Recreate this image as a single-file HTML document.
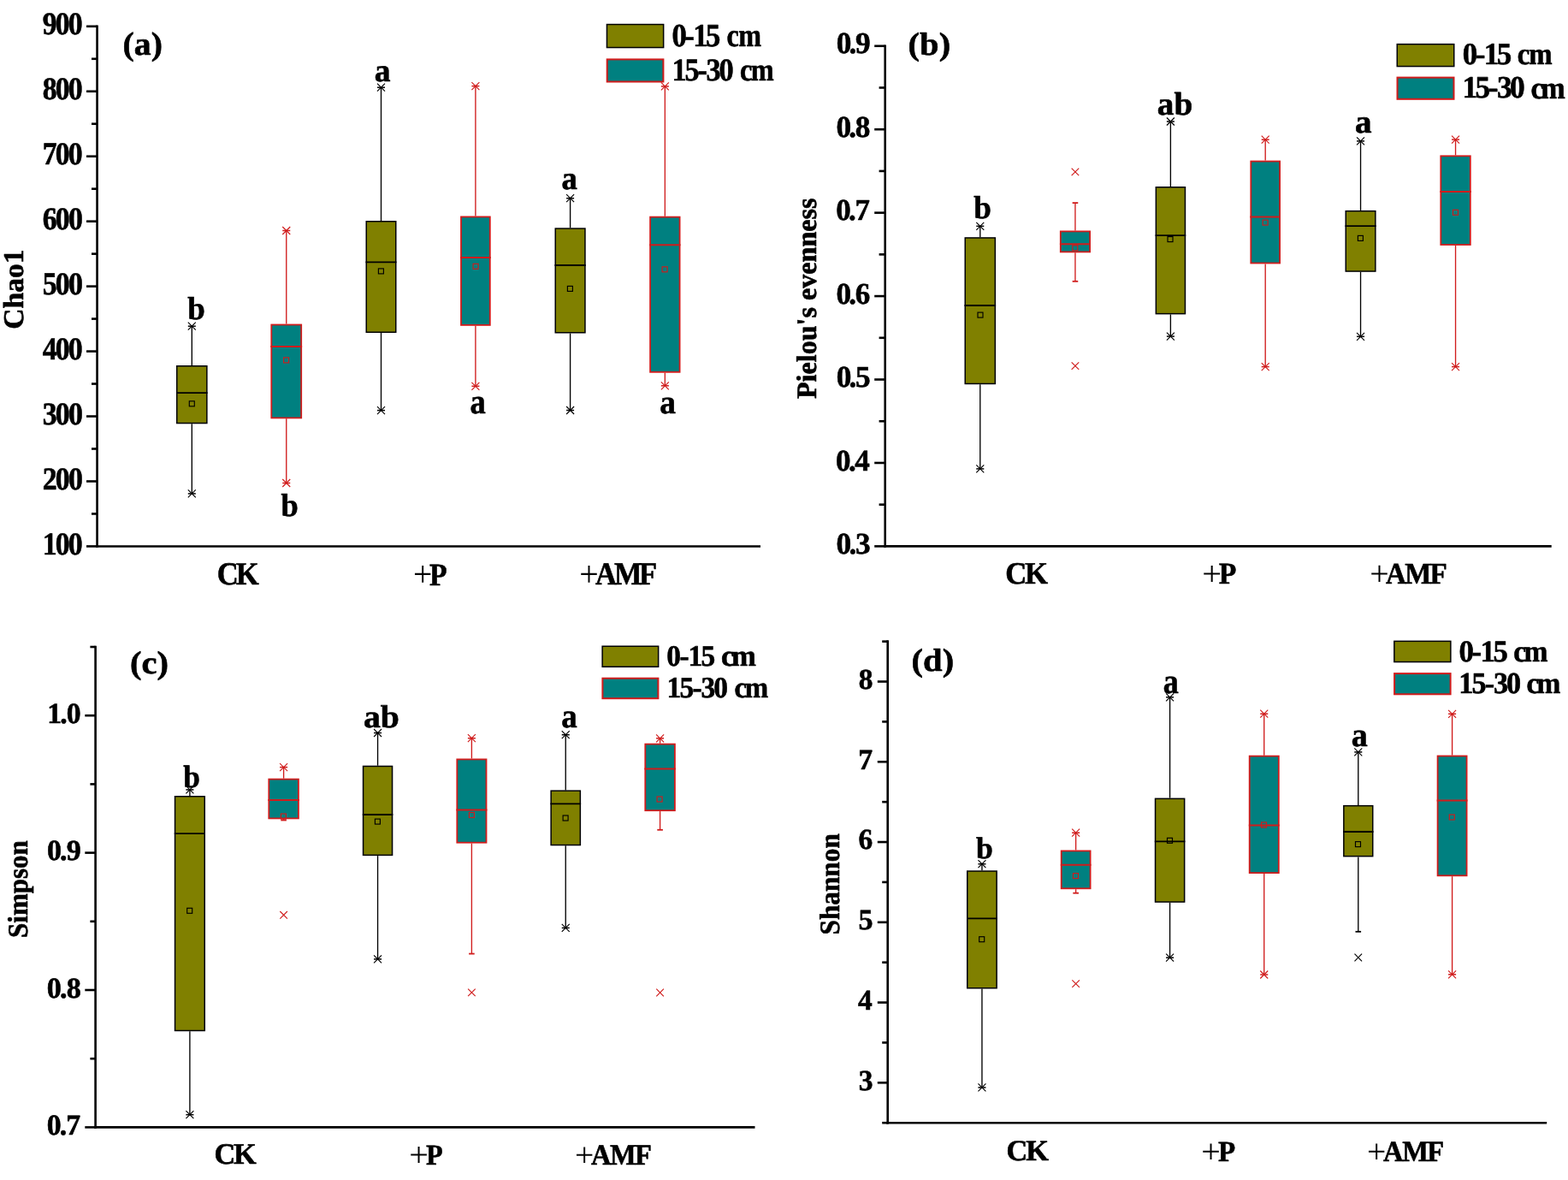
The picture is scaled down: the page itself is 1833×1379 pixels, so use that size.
<!DOCTYPE html>
<html><head><meta charset="utf-8"><title>Alpha diversity boxplots</title>
<style>
html,body{margin:0;padding:0;background:#fff;}
body{width:1833px;height:1379px;overflow:hidden;}
svg{display:block;}
text{font-family:"Liberation Serif", "Times New Roman", serif;font-weight:bold;fill:#000;stroke:#000;stroke-width:0.6px;stroke-linejoin:round;font-kerning:none;text-rendering:geometricPrecision;}
</style></head><body>
<svg width="1833" height="1379" viewBox="0 0 1833 1379">
<rect width="1833" height="1379" fill="#fff"/>
<line x1="113.55" y1="29.5" x2="113.55" y2="639.75" stroke="#000" stroke-width="2.6" stroke-linecap="butt"/>
<line x1="112.25" y1="638.45" x2="889" y2="638.45" stroke="#000" stroke-width="2.6" stroke-linecap="butt"/>
<line x1="101" y1="638.45" x2="113.55" y2="638.45" stroke="#000" stroke-width="2.6" stroke-linecap="butt"/>
<line x1="101" y1="562.49" x2="113.55" y2="562.49" stroke="#000" stroke-width="2.6" stroke-linecap="butt"/>
<line x1="101" y1="486.54" x2="113.55" y2="486.54" stroke="#000" stroke-width="2.6" stroke-linecap="butt"/>
<line x1="101" y1="410.58" x2="113.55" y2="410.58" stroke="#000" stroke-width="2.6" stroke-linecap="butt"/>
<line x1="101" y1="334.63" x2="113.55" y2="334.63" stroke="#000" stroke-width="2.6" stroke-linecap="butt"/>
<line x1="101" y1="258.67" x2="113.55" y2="258.67" stroke="#000" stroke-width="2.6" stroke-linecap="butt"/>
<line x1="101" y1="182.71" x2="113.55" y2="182.71" stroke="#000" stroke-width="2.6" stroke-linecap="butt"/>
<line x1="101" y1="106.76" x2="113.55" y2="106.76" stroke="#000" stroke-width="2.6" stroke-linecap="butt"/>
<line x1="101" y1="30.8" x2="113.55" y2="30.8" stroke="#000" stroke-width="2.6" stroke-linecap="butt"/>
<line x1="107" y1="600.47" x2="113.55" y2="600.47" stroke="#000" stroke-width="2.6" stroke-linecap="butt"/>
<line x1="107" y1="524.52" x2="113.55" y2="524.52" stroke="#000" stroke-width="2.6" stroke-linecap="butt"/>
<line x1="107" y1="448.56" x2="113.55" y2="448.56" stroke="#000" stroke-width="2.6" stroke-linecap="butt"/>
<line x1="107" y1="372.6" x2="113.55" y2="372.6" stroke="#000" stroke-width="2.6" stroke-linecap="butt"/>
<line x1="107" y1="296.65" x2="113.55" y2="296.65" stroke="#000" stroke-width="2.6" stroke-linecap="butt"/>
<line x1="107" y1="220.69" x2="113.55" y2="220.69" stroke="#000" stroke-width="2.6" stroke-linecap="butt"/>
<line x1="107" y1="144.74" x2="113.55" y2="144.74" stroke="#000" stroke-width="2.6" stroke-linecap="butt"/>
<line x1="107" y1="68.78" x2="113.55" y2="68.78" stroke="#000" stroke-width="2.6" stroke-linecap="butt"/>
<line x1="224.3" y1="427" x2="224.3" y2="381.2" stroke="#000" stroke-width="1.35" stroke-linecap="butt"/>
<line x1="224.3" y1="495.3" x2="224.3" y2="576.9" stroke="#000" stroke-width="1.35" stroke-linecap="butt"/>
<rect x="206.75" y="427.75" width="35.1" height="66.8" fill="#808000" stroke="#000" stroke-width="1.5"/>
<line x1="206" y1="459.1" x2="242.6" y2="459.1" stroke="#000" stroke-width="1.8" stroke-linecap="butt"/>
<rect x="221.3" y="468.8" width="6" height="6" fill="none" stroke="#000" stroke-width="1.15"/>
<path d="M219.8 376.7L228.8 385.7M228.8 376.7L219.8 385.7" stroke="#000" stroke-width="1.15" fill="none"/>
<path d="M219.8 381.2H228.8" stroke="#000" stroke-width="1.5" fill="none"/>
<path d="M219.8 572.4L228.8 581.4M228.8 572.4L219.8 581.4" stroke="#000" stroke-width="1.15" fill="none"/>
<path d="M219.8 576.9H228.8" stroke="#000" stroke-width="1.5" fill="none"/>
<line x1="334.75" y1="378.6" x2="334.75" y2="269.5" stroke="#d01c1c" stroke-width="1.35" stroke-linecap="butt"/>
<line x1="334.75" y1="489.3" x2="334.75" y2="564.5" stroke="#d01c1c" stroke-width="1.35" stroke-linecap="butt"/>
<rect x="317.3" y="379.5" width="34.9" height="108.9" fill="#008080" stroke="#d01c1c" stroke-width="1.8"/>
<line x1="316.4" y1="404.9" x2="353.1" y2="404.9" stroke="#d01c1c" stroke-width="2.0" stroke-linecap="butt"/>
<rect x="331.6" y="417.9" width="6" height="6" fill="none" stroke="#d01c1c" stroke-width="1.15"/>
<path d="M330.25 265L339.25 274M339.25 265L330.25 274" stroke="#d01c1c" stroke-width="1.15" fill="none"/>
<path d="M330.25 269.5H339.25" stroke="#d01c1c" stroke-width="1.5" fill="none"/>
<path d="M330.25 560L339.25 569M339.25 560L330.25 569" stroke="#d01c1c" stroke-width="1.15" fill="none"/>
<path d="M330.25 564.5H339.25" stroke="#d01c1c" stroke-width="1.5" fill="none"/>
<line x1="445.5" y1="258" x2="445.5" y2="102.2" stroke="#000" stroke-width="1.35" stroke-linecap="butt"/>
<line x1="445.5" y1="389" x2="445.5" y2="479.6" stroke="#000" stroke-width="1.35" stroke-linecap="butt"/>
<rect x="428.25" y="258.75" width="34.5" height="129.5" fill="#808000" stroke="#000" stroke-width="1.5"/>
<line x1="427.5" y1="306.4" x2="463.5" y2="306.4" stroke="#000" stroke-width="1.8" stroke-linecap="butt"/>
<rect x="442.4" y="313.9" width="6" height="6" fill="none" stroke="#000" stroke-width="1.15"/>
<path d="M441 97.7L450 106.7M450 97.7L441 106.7" stroke="#000" stroke-width="1.15" fill="none"/>
<path d="M441 102.2H450" stroke="#000" stroke-width="1.5" fill="none"/>
<path d="M441 475.1L450 484.1M450 475.1L441 484.1" stroke="#000" stroke-width="1.15" fill="none"/>
<path d="M441 479.6H450" stroke="#000" stroke-width="1.5" fill="none"/>
<line x1="555.9" y1="252.5" x2="555.9" y2="100.6" stroke="#d01c1c" stroke-width="1.35" stroke-linecap="butt"/>
<line x1="555.9" y1="380.8" x2="555.9" y2="451.3" stroke="#d01c1c" stroke-width="1.35" stroke-linecap="butt"/>
<rect x="539" y="253.4" width="33.8" height="126.5" fill="#008080" stroke="#d01c1c" stroke-width="1.8"/>
<line x1="538.1" y1="301.1" x2="573.7" y2="301.1" stroke="#d01c1c" stroke-width="2.0" stroke-linecap="butt"/>
<rect x="553.1" y="308.3" width="6" height="6" fill="none" stroke="#d01c1c" stroke-width="1.15"/>
<path d="M551.4 96.1L560.4 105.1M560.4 96.1L551.4 105.1" stroke="#d01c1c" stroke-width="1.15" fill="none"/>
<path d="M551.4 100.6H560.4" stroke="#d01c1c" stroke-width="1.5" fill="none"/>
<path d="M551.4 446.8L560.4 455.8M560.4 446.8L551.4 455.8" stroke="#d01c1c" stroke-width="1.15" fill="none"/>
<path d="M551.4 451.3H560.4" stroke="#d01c1c" stroke-width="1.5" fill="none"/>
<line x1="666.6" y1="266.3" x2="666.6" y2="231.7" stroke="#000" stroke-width="1.35" stroke-linecap="butt"/>
<line x1="666.6" y1="389.5" x2="666.6" y2="479.5" stroke="#000" stroke-width="1.35" stroke-linecap="butt"/>
<rect x="649.25" y="267.05" width="34.7" height="121.7" fill="#808000" stroke="#000" stroke-width="1.5"/>
<line x1="648.5" y1="310" x2="684.7" y2="310" stroke="#000" stroke-width="1.8" stroke-linecap="butt"/>
<rect x="663.4" y="334.4" width="6" height="6" fill="none" stroke="#000" stroke-width="1.15"/>
<path d="M662.1 227.2L671.1 236.2M671.1 227.2L662.1 236.2" stroke="#000" stroke-width="1.15" fill="none"/>
<path d="M662.1 231.7H671.1" stroke="#000" stroke-width="1.5" fill="none"/>
<path d="M662.1 475L671.1 484M671.1 475L662.1 484" stroke="#000" stroke-width="1.15" fill="none"/>
<path d="M662.1 479.5H671.1" stroke="#000" stroke-width="1.5" fill="none"/>
<line x1="777.35" y1="252.7" x2="777.35" y2="100.9" stroke="#d01c1c" stroke-width="1.35" stroke-linecap="butt"/>
<line x1="777.35" y1="435.7" x2="777.35" y2="450.8" stroke="#d01c1c" stroke-width="1.35" stroke-linecap="butt"/>
<rect x="760.1" y="253.6" width="34.5" height="181.2" fill="#008080" stroke="#d01c1c" stroke-width="1.8"/>
<line x1="759.2" y1="286.2" x2="795.5" y2="286.2" stroke="#d01c1c" stroke-width="2.0" stroke-linecap="butt"/>
<rect x="774.1" y="311.8" width="6" height="6" fill="none" stroke="#d01c1c" stroke-width="1.15"/>
<path d="M772.85 96.4L781.85 105.4M781.85 96.4L772.85 105.4" stroke="#d01c1c" stroke-width="1.15" fill="none"/>
<path d="M772.85 100.9H781.85" stroke="#d01c1c" stroke-width="1.5" fill="none"/>
<path d="M772.85 446.3L781.85 455.3M781.85 446.3L772.85 455.3" stroke="#d01c1c" stroke-width="1.15" fill="none"/>
<path d="M772.85 450.8H781.85" stroke="#d01c1c" stroke-width="1.5" fill="none"/>
<rect x="709.45" y="28.55" width="66.2" height="27" fill="#808000" stroke="#000" stroke-width="1.5"/>
<rect x="709.7" y="69.4" width="65.7" height="26.1" fill="#008080" stroke="#d01c1c" stroke-width="2"/>
<text transform="translate(785.44 53.92) scale(0.9149 1)" x="0 16.26 27.08 43.34" font-size="37.93">0-15</text>
<text transform="translate(849.45 53.92) scale(0.8479 1)" x="0 16.23" font-size="37.93">cm</text>
<text transform="translate(785.49 94.03) scale(0.9233 1)" x="0 16.23 32.46 43.26 59.49" font-size="37.19">15-30</text>
<text transform="translate(865.02 94.03) scale(0.8701 1)" x="0 14.64" font-size="37.19">cm</text>
<text transform="translate(143.58 63.8) scale(1.0442 1)" font-size="38.04">(a)</text>
<text transform="translate(253.67 683.43) scale(0.9245 1)" x="0 24.03" font-size="37.50">CK</text>
<text transform="translate(482.88 685.21) scale(0.9303 1)" font-size="42.49" style="font-weight:normal;stroke-width:0">+</text>
<text transform="translate(501.97 683.5) scale(0.9108 1)" font-size="36.95">P</text>
<text transform="translate(677.24 685.33) scale(0.9335 1)" font-size="42.70" style="font-weight:normal;stroke-width:0">+</text>
<text transform="translate(695.9 683.3) scale(0.9204 1)" x="0 24.12 55.63" font-size="37.58">AMF</text>
<text transform="translate(219.27 372.82) scale(0.9853 1)" font-size="37.50">b</text>
<text transform="translate(328.44 602.53) scale(0.9751 1)" font-size="37.36">b</text>
<text transform="translate(437.84 94.52) scale(0.9985 1)" font-size="37.58">a</text>
<text transform="translate(549.48 483.49) scale(0.8935 1)" font-size="40.92">a</text>
<text transform="translate(656.61 221.12) scale(0.9675 1)" font-size="38.00">a</text>
<text transform="translate(771.21 482.91) scale(0.9659 1)" font-size="38.83">a</text>
<text transform="translate(26.77 384.74) rotate(-90) scale(1.0071 1)" font-size="33.38">Chao1</text>
<text transform="translate(49.8 647.65) scale(0.9052 1)" x="0 16.6 33.21" font-size="37.31">100</text>
<text transform="translate(49.73 571.69) scale(0.9080 1)" x="0 16.6 33.21" font-size="37.31">200</text>
<text transform="translate(49.72 495.74) scale(0.9086 1)" x="0 16.6 33.21" font-size="37.31">300</text>
<text transform="translate(49.74 419.78) scale(0.9075 1)" x="0 16.6 33.21" font-size="37.31">400</text>
<text transform="translate(49.7 343.83) scale(0.9091 1)" x="0 16.6 33.21" font-size="37.31">500</text>
<text transform="translate(49.75 267.87) scale(0.9073 1)" x="0 16.6 33.21" font-size="37.31">600</text>
<text transform="translate(49.86 191.91) scale(0.9028 1)" x="0 16.6 33.21" font-size="37.31">700</text>
<text transform="translate(49.76 115.96) scale(0.9066 1)" x="0 16.6 33.21" font-size="37.31">800</text>
<text transform="translate(49.85 40) scale(0.9031 1)" x="0 16.6 33.21" font-size="37.31">900</text>
<line x1="1034.7" y1="52.46" x2="1034.7" y2="639.7" stroke="#000" stroke-width="2.6" stroke-linecap="butt"/>
<line x1="1033.4" y1="638.4" x2="1813.7" y2="638.4" stroke="#000" stroke-width="2.6" stroke-linecap="butt"/>
<line x1="1022.2" y1="638.4" x2="1034.7" y2="638.4" stroke="#000" stroke-width="2.6" stroke-linecap="butt"/>
<line x1="1022.2" y1="540.96" x2="1034.7" y2="540.96" stroke="#000" stroke-width="2.6" stroke-linecap="butt"/>
<line x1="1022.2" y1="443.52" x2="1034.7" y2="443.52" stroke="#000" stroke-width="2.6" stroke-linecap="butt"/>
<line x1="1022.2" y1="346.08" x2="1034.7" y2="346.08" stroke="#000" stroke-width="2.6" stroke-linecap="butt"/>
<line x1="1022.2" y1="248.64" x2="1034.7" y2="248.64" stroke="#000" stroke-width="2.6" stroke-linecap="butt"/>
<line x1="1022.2" y1="151.2" x2="1034.7" y2="151.2" stroke="#000" stroke-width="2.6" stroke-linecap="butt"/>
<line x1="1022.2" y1="53.76" x2="1034.7" y2="53.76" stroke="#000" stroke-width="2.6" stroke-linecap="butt"/>
<line x1="1027.6" y1="589.68" x2="1034.7" y2="589.68" stroke="#000" stroke-width="2.6" stroke-linecap="butt"/>
<line x1="1027.6" y1="492.24" x2="1034.7" y2="492.24" stroke="#000" stroke-width="2.6" stroke-linecap="butt"/>
<line x1="1027.6" y1="394.8" x2="1034.7" y2="394.8" stroke="#000" stroke-width="2.6" stroke-linecap="butt"/>
<line x1="1027.6" y1="297.36" x2="1034.7" y2="297.36" stroke="#000" stroke-width="2.6" stroke-linecap="butt"/>
<line x1="1027.6" y1="199.92" x2="1034.7" y2="199.92" stroke="#000" stroke-width="2.6" stroke-linecap="butt"/>
<line x1="1027.6" y1="102.48" x2="1034.7" y2="102.48" stroke="#000" stroke-width="2.6" stroke-linecap="butt"/>
<line x1="1145.8" y1="277.2" x2="1145.8" y2="264.3" stroke="#000" stroke-width="1.35" stroke-linecap="butt"/>
<line x1="1145.8" y1="449.2" x2="1145.8" y2="547.9" stroke="#000" stroke-width="1.35" stroke-linecap="butt"/>
<rect x="1128.25" y="277.95" width="35.1" height="170.5" fill="#808000" stroke="#000" stroke-width="1.5"/>
<line x1="1127.5" y1="357" x2="1164.1" y2="357" stroke="#000" stroke-width="1.8" stroke-linecap="butt"/>
<rect x="1143" y="365.1" width="6" height="6" fill="none" stroke="#000" stroke-width="1.15"/>
<path d="M1141.3 259.8L1150.3 268.8M1150.3 259.8L1141.3 268.8" stroke="#000" stroke-width="1.15" fill="none"/>
<path d="M1141.3 264.3H1150.3" stroke="#000" stroke-width="1.5" fill="none"/>
<path d="M1141.3 543.4L1150.3 552.4M1150.3 543.4L1141.3 552.4" stroke="#000" stroke-width="1.15" fill="none"/>
<path d="M1141.3 547.9H1150.3" stroke="#000" stroke-width="1.5" fill="none"/>
<line x1="1256.95" y1="269.5" x2="1256.95" y2="237.1" stroke="#d01c1c" stroke-width="1.35" stroke-linecap="butt"/>
<line x1="1256.95" y1="295.3" x2="1256.95" y2="328.8" stroke="#d01c1c" stroke-width="1.35" stroke-linecap="butt"/>
<rect x="1239.8" y="270.4" width="34.3" height="24" fill="#008080" stroke="#d01c1c" stroke-width="1.8"/>
<line x1="1238.9" y1="285.2" x2="1275" y2="285.2" stroke="#d01c1c" stroke-width="2.0" stroke-linecap="butt"/>
<rect x="1253.8" y="286.8" width="6" height="6" fill="none" stroke="#d01c1c" stroke-width="1.15"/>
<line x1="1253.65" y1="237.1" x2="1260.25" y2="237.1" stroke="#d01c1c" stroke-width="1.8" stroke-linecap="butt"/>
<line x1="1253.65" y1="328.8" x2="1260.25" y2="328.8" stroke="#d01c1c" stroke-width="1.8" stroke-linecap="butt"/>
<path d="M1252.65 196.6L1261.25 205.2M1261.25 196.6L1252.65 205.2" stroke="#d01c1c" stroke-width="1.15" fill="none"/>
<path d="M1252.65 423.3L1261.25 431.9M1261.25 423.3L1252.65 431.9" stroke="#d01c1c" stroke-width="1.15" fill="none"/>
<line x1="1368.4" y1="218" x2="1368.4" y2="142" stroke="#000" stroke-width="1.35" stroke-linecap="butt"/>
<line x1="1368.4" y1="367.4" x2="1368.4" y2="393.1" stroke="#000" stroke-width="1.35" stroke-linecap="butt"/>
<rect x="1351.35" y="218.75" width="34.1" height="147.9" fill="#808000" stroke="#000" stroke-width="1.5"/>
<line x1="1350.6" y1="275.2" x2="1386.2" y2="275.2" stroke="#000" stroke-width="1.8" stroke-linecap="butt"/>
<rect x="1365" y="276.6" width="6" height="6" fill="none" stroke="#000" stroke-width="1.15"/>
<path d="M1363.9 137.5L1372.9 146.5M1372.9 137.5L1363.9 146.5" stroke="#000" stroke-width="1.15" fill="none"/>
<path d="M1363.9 142H1372.9" stroke="#000" stroke-width="1.5" fill="none"/>
<path d="M1363.9 388.6L1372.9 397.6M1372.9 388.6L1363.9 397.6" stroke="#000" stroke-width="1.15" fill="none"/>
<path d="M1363.9 393.1H1372.9" stroke="#000" stroke-width="1.5" fill="none"/>
<line x1="1479.2" y1="187.6" x2="1479.2" y2="163.2" stroke="#d01c1c" stroke-width="1.35" stroke-linecap="butt"/>
<line x1="1479.2" y1="308.4" x2="1479.2" y2="428.6" stroke="#d01c1c" stroke-width="1.35" stroke-linecap="butt"/>
<rect x="1462.3" y="188.5" width="33.8" height="119" fill="#008080" stroke="#d01c1c" stroke-width="1.8"/>
<line x1="1461.4" y1="253.4" x2="1497" y2="253.4" stroke="#d01c1c" stroke-width="2.0" stroke-linecap="butt"/>
<rect x="1476.1" y="257.1" width="6" height="6" fill="none" stroke="#d01c1c" stroke-width="1.15"/>
<path d="M1474.7 158.7L1483.7 167.7M1483.7 158.7L1474.7 167.7" stroke="#d01c1c" stroke-width="1.15" fill="none"/>
<path d="M1474.7 163.2H1483.7" stroke="#d01c1c" stroke-width="1.5" fill="none"/>
<path d="M1474.7 424.1L1483.7 433.1M1483.7 424.1L1474.7 433.1" stroke="#d01c1c" stroke-width="1.15" fill="none"/>
<path d="M1474.7 428.6H1483.7" stroke="#d01c1c" stroke-width="1.5" fill="none"/>
<line x1="1590.55" y1="245.9" x2="1590.55" y2="164.9" stroke="#000" stroke-width="1.35" stroke-linecap="butt"/>
<line x1="1590.55" y1="317.8" x2="1590.55" y2="393.3" stroke="#000" stroke-width="1.35" stroke-linecap="butt"/>
<rect x="1573.25" y="246.65" width="34.6" height="70.4" fill="#808000" stroke="#000" stroke-width="1.5"/>
<line x1="1572.5" y1="264.2" x2="1608.6" y2="264.2" stroke="#000" stroke-width="1.8" stroke-linecap="butt"/>
<rect x="1587.4" y="275.4" width="6" height="6" fill="none" stroke="#000" stroke-width="1.15"/>
<path d="M1586.05 160.4L1595.05 169.4M1595.05 160.4L1586.05 169.4" stroke="#000" stroke-width="1.15" fill="none"/>
<path d="M1586.05 164.9H1595.05" stroke="#000" stroke-width="1.5" fill="none"/>
<path d="M1586.05 388.8L1595.05 397.8M1595.05 388.8L1586.05 397.8" stroke="#000" stroke-width="1.15" fill="none"/>
<path d="M1586.05 393.3H1595.05" stroke="#000" stroke-width="1.5" fill="none"/>
<line x1="1701.55" y1="181.4" x2="1701.55" y2="163.1" stroke="#d01c1c" stroke-width="1.35" stroke-linecap="butt"/>
<line x1="1701.55" y1="286.9" x2="1701.55" y2="428.6" stroke="#d01c1c" stroke-width="1.35" stroke-linecap="butt"/>
<rect x="1684.3" y="182.3" width="34.5" height="103.7" fill="#008080" stroke="#d01c1c" stroke-width="1.8"/>
<line x1="1683.4" y1="224" x2="1719.7" y2="224" stroke="#d01c1c" stroke-width="2.0" stroke-linecap="butt"/>
<rect x="1698.5" y="245.3" width="6" height="6" fill="none" stroke="#d01c1c" stroke-width="1.15"/>
<path d="M1697.05 158.6L1706.05 167.6M1706.05 158.6L1697.05 167.6" stroke="#d01c1c" stroke-width="1.15" fill="none"/>
<path d="M1697.05 163.1H1706.05" stroke="#d01c1c" stroke-width="1.5" fill="none"/>
<path d="M1697.05 424.1L1706.05 433.1M1706.05 424.1L1697.05 433.1" stroke="#d01c1c" stroke-width="1.15" fill="none"/>
<path d="M1697.05 428.6H1706.05" stroke="#d01c1c" stroke-width="1.5" fill="none"/>
<rect x="1633.25" y="51.65" width="66.5" height="25.9" fill="#808000" stroke="#000" stroke-width="1.5"/>
<rect x="1633.5" y="90.6" width="66" height="25.2" fill="#008080" stroke="#d01c1c" stroke-width="2"/>
<text transform="translate(1709.81 74.79) scale(0.9687 1)" x="0 15.51 25.83 41.34" font-size="36.15">0-15</text>
<text transform="translate(1773.82 74.77) scale(0.9089 1)" x="0 14.9" font-size="36.15">cm</text>
<text transform="translate(1709.4 114.11) scale(0.9699 1)" x="0 15.66 31.32 41.76 57.42" font-size="36.44">15-30</text>
<text transform="translate(1789.46 114.74) scale(0.9409 1)" x="0 12.61" font-size="36.44">cm</text>
<text transform="translate(1061.59 63.84) scale(1.0850 1)" font-size="37.38">(b)</text>
<text transform="translate(1175.29 682.04) scale(0.9589 1)" x="0 23.6" font-size="36.31">CK</text>
<text transform="translate(1405.13 683.74) scale(0.9947 1)" font-size="40.77" style="font-weight:normal;stroke-width:0">+</text>
<text transform="translate(1424.84 681.6) scale(0.9534 1)" font-size="35.42">P</text>
<text transform="translate(1601.18 683.76) scale(0.9738 1)" font-size="40.99" style="font-weight:normal;stroke-width:0">+</text>
<text transform="translate(1619.99 681.6) scale(0.9471 1)" x="0 23.55 54.33" font-size="35.00">AMF</text>
<text transform="translate(1138.3 254.72) scale(0.9902 1)" font-size="37.50">b</text>
<text transform="translate(1352.87 134.02) scale(1.0336 1)" font-size="37.93">ab</text>
<text transform="translate(1583.88 154.62) scale(1.0296 1)" font-size="38.00">a</text>
<text transform="translate(954.1 465.99) rotate(-90) scale(0.9728 1)" font-size="33.00">Pielou's evenness</text>
<text transform="translate(977.52 647) scale(1.0030 1)" x="0 14.88 22.32" font-size="35.21">0.3</text>
<text transform="translate(977.07 549.56) scale(0.9954 1)" x="0 14.88 22.32" font-size="35.21">0.4</text>
<text transform="translate(977.71 452.12) scale(1.0018 1)" x="0 14.88 22.32" font-size="35.21">0.5</text>
<text transform="translate(977.49 354.68) scale(0.9974 1)" x="0 14.88 22.32" font-size="35.21">0.6</text>
<text transform="translate(977.33 257.24) scale(0.9906 1)" x="0 14.88 22.32" font-size="35.21">0.7</text>
<text transform="translate(977.45 159.8) scale(1.0032 1)" x="0 14.88 22.32" font-size="35.21">0.8</text>
<text transform="translate(977.63 62.36) scale(1.0014 1)" x="0 14.88 22.32" font-size="35.21">0.9</text>
<line x1="111.6" y1="754.7" x2="111.6" y2="1318.7" stroke="#000" stroke-width="2.6" stroke-linecap="butt"/>
<line x1="110.3" y1="1317.4" x2="882.5" y2="1317.4" stroke="#000" stroke-width="2.6" stroke-linecap="butt"/>
<line x1="99.3" y1="1317.4" x2="111.6" y2="1317.4" stroke="#000" stroke-width="2.6" stroke-linecap="butt"/>
<line x1="99.3" y1="1157" x2="111.6" y2="1157" stroke="#000" stroke-width="2.6" stroke-linecap="butt"/>
<line x1="99.3" y1="996.6" x2="111.6" y2="996.6" stroke="#000" stroke-width="2.6" stroke-linecap="butt"/>
<line x1="99.3" y1="836.2" x2="111.6" y2="836.2" stroke="#000" stroke-width="2.6" stroke-linecap="butt"/>
<line x1="105.4" y1="1237.2" x2="111.6" y2="1237.2" stroke="#000" stroke-width="2.6" stroke-linecap="butt"/>
<line x1="105.4" y1="1076.8" x2="111.6" y2="1076.8" stroke="#000" stroke-width="2.6" stroke-linecap="butt"/>
<line x1="105.4" y1="916.4" x2="111.6" y2="916.4" stroke="#000" stroke-width="2.6" stroke-linecap="butt"/>
<line x1="105.4" y1="756" x2="111.6" y2="756" stroke="#000" stroke-width="2.6" stroke-linecap="butt"/>
<line x1="221.9" y1="930" x2="221.9" y2="922.9" stroke="#000" stroke-width="1.35" stroke-linecap="butt"/>
<line x1="221.9" y1="1205.2" x2="221.9" y2="1302.7" stroke="#000" stroke-width="1.35" stroke-linecap="butt"/>
<rect x="204.55" y="930.75" width="34.7" height="273.7" fill="#808000" stroke="#000" stroke-width="1.5"/>
<line x1="203.8" y1="974.1" x2="240" y2="974.1" stroke="#000" stroke-width="1.8" stroke-linecap="butt"/>
<rect x="218.7" y="1061.3" width="6" height="6" fill="none" stroke="#000" stroke-width="1.15"/>
<path d="M217.4 918.4L226.4 927.4M226.4 918.4L217.4 927.4" stroke="#000" stroke-width="1.15" fill="none"/>
<path d="M217.4 922.9H226.4" stroke="#000" stroke-width="1.5" fill="none"/>
<path d="M217.4 1298.2L226.4 1307.2M226.4 1298.2L217.4 1307.2" stroke="#000" stroke-width="1.15" fill="none"/>
<path d="M217.4 1302.7H226.4" stroke="#000" stroke-width="1.5" fill="none"/>
<line x1="331.6" y1="909.7" x2="331.6" y2="896.6" stroke="#d01c1c" stroke-width="1.35" stroke-linecap="butt"/>
<line x1="331.6" y1="957.3" x2="331.6" y2="958.5" stroke="#d01c1c" stroke-width="1.35" stroke-linecap="butt"/>
<rect x="314.3" y="910.6" width="34.6" height="45.8" fill="#008080" stroke="#d01c1c" stroke-width="1.8"/>
<line x1="313.4" y1="934.9" x2="349.8" y2="934.9" stroke="#d01c1c" stroke-width="2.0" stroke-linecap="butt"/>
<rect x="328.4" y="951" width="6" height="6" fill="none" stroke="#d01c1c" stroke-width="1.15"/>
<path d="M327.1 892.1L336.1 901.1M336.1 892.1L327.1 901.1" stroke="#d01c1c" stroke-width="1.15" fill="none"/>
<path d="M327.1 896.6H336.1" stroke="#d01c1c" stroke-width="1.5" fill="none"/>
<line x1="328.3" y1="958.5" x2="334.9" y2="958.5" stroke="#d01c1c" stroke-width="1.8" stroke-linecap="butt"/>
<path d="M327.3 1065L335.9 1073.6M335.9 1065L327.3 1073.6" stroke="#d01c1c" stroke-width="1.15" fill="none"/>
<line x1="441.55" y1="894.7" x2="441.55" y2="856.5" stroke="#000" stroke-width="1.35" stroke-linecap="butt"/>
<line x1="441.55" y1="1000.1" x2="441.55" y2="1120.9" stroke="#000" stroke-width="1.35" stroke-linecap="butt"/>
<rect x="424.55" y="895.45" width="34" height="103.9" fill="#808000" stroke="#000" stroke-width="1.5"/>
<line x1="423.8" y1="952" x2="459.3" y2="952" stroke="#000" stroke-width="1.8" stroke-linecap="butt"/>
<rect x="438.4" y="957.1" width="6" height="6" fill="none" stroke="#000" stroke-width="1.15"/>
<path d="M437.05 852L446.05 861M446.05 852L437.05 861" stroke="#000" stroke-width="1.15" fill="none"/>
<path d="M437.05 856.5H446.05" stroke="#000" stroke-width="1.5" fill="none"/>
<path d="M437.05 1116.4L446.05 1125.4M446.05 1116.4L437.05 1125.4" stroke="#000" stroke-width="1.15" fill="none"/>
<path d="M437.05 1120.9H446.05" stroke="#000" stroke-width="1.5" fill="none"/>
<line x1="551.4" y1="886.5" x2="551.4" y2="862.7" stroke="#d01c1c" stroke-width="1.35" stroke-linecap="butt"/>
<line x1="551.4" y1="985.6" x2="551.4" y2="1114.6" stroke="#d01c1c" stroke-width="1.35" stroke-linecap="butt"/>
<rect x="534.3" y="887.4" width="34.2" height="97.3" fill="#008080" stroke="#d01c1c" stroke-width="1.8"/>
<line x1="533.4" y1="946.6" x2="569.4" y2="946.6" stroke="#d01c1c" stroke-width="2.0" stroke-linecap="butt"/>
<rect x="548.4" y="949.5" width="6" height="6" fill="none" stroke="#d01c1c" stroke-width="1.15"/>
<path d="M546.9 858.2L555.9 867.2M555.9 858.2L546.9 867.2" stroke="#d01c1c" stroke-width="1.15" fill="none"/>
<path d="M546.9 862.7H555.9" stroke="#d01c1c" stroke-width="1.5" fill="none"/>
<line x1="548.1" y1="1114.6" x2="554.7" y2="1114.6" stroke="#d01c1c" stroke-width="1.8" stroke-linecap="butt"/>
<path d="M547.1 1155.6L555.7 1164.2M555.7 1155.6L547.1 1164.2" stroke="#d01c1c" stroke-width="1.15" fill="none"/>
<line x1="661.25" y1="923.4" x2="661.25" y2="858.7" stroke="#000" stroke-width="1.35" stroke-linecap="butt"/>
<line x1="661.25" y1="988.3" x2="661.25" y2="1084.4" stroke="#000" stroke-width="1.35" stroke-linecap="butt"/>
<rect x="644.15" y="924.15" width="34.2" height="63.4" fill="#808000" stroke="#000" stroke-width="1.5"/>
<line x1="643.4" y1="939.4" x2="679.1" y2="939.4" stroke="#000" stroke-width="1.8" stroke-linecap="butt"/>
<rect x="658.1" y="953" width="6" height="6" fill="none" stroke="#000" stroke-width="1.15"/>
<path d="M656.75 854.2L665.75 863.2M665.75 854.2L656.75 863.2" stroke="#000" stroke-width="1.15" fill="none"/>
<path d="M656.75 858.7H665.75" stroke="#000" stroke-width="1.5" fill="none"/>
<path d="M656.75 1079.9L665.75 1088.9M665.75 1079.9L656.75 1088.9" stroke="#000" stroke-width="1.15" fill="none"/>
<path d="M656.75 1084.4H665.75" stroke="#000" stroke-width="1.5" fill="none"/>
<line x1="771.6" y1="868.7" x2="771.6" y2="862.8" stroke="#d01c1c" stroke-width="1.35" stroke-linecap="butt"/>
<line x1="771.6" y1="948.1" x2="771.6" y2="969.8" stroke="#d01c1c" stroke-width="1.35" stroke-linecap="butt"/>
<rect x="754.3" y="869.6" width="34.6" height="77.6" fill="#008080" stroke="#d01c1c" stroke-width="1.8"/>
<line x1="753.4" y1="898.5" x2="789.8" y2="898.5" stroke="#d01c1c" stroke-width="2.0" stroke-linecap="butt"/>
<rect x="768.1" y="931" width="6" height="6" fill="none" stroke="#d01c1c" stroke-width="1.15"/>
<path d="M767.1 858.3L776.1 867.3M776.1 858.3L767.1 867.3" stroke="#d01c1c" stroke-width="1.15" fill="none"/>
<path d="M767.1 862.8H776.1" stroke="#d01c1c" stroke-width="1.5" fill="none"/>
<line x1="768.3" y1="969.8" x2="774.9" y2="969.8" stroke="#d01c1c" stroke-width="1.8" stroke-linecap="butt"/>
<path d="M767.3 1155.7L775.9 1164.3M775.9 1155.7L767.3 1164.3" stroke="#d01c1c" stroke-width="1.15" fill="none"/>
<rect x="704.15" y="755.25" width="65.5" height="24" fill="#808000" stroke="#000" stroke-width="1.5"/>
<rect x="704.4" y="792.7" width="65" height="23.5" fill="#008080" stroke="#d01c1c" stroke-width="2"/>
<text transform="translate(779.32 777.95) scale(0.9649 1)" x="0 15.63 26.03 41.66" font-size="34.67">0-15</text>
<text transform="translate(842.93 777.95) scale(1.0010 1)" x="0 12.05" font-size="34.67">cm</text>
<text transform="translate(779.6 814.61) scale(0.9668 1)" x="0 15.45 30.91 41.2 56.65" font-size="34.67">15-30</text>
<text transform="translate(858.55 814.81) scale(0.9500 1)" x="0 12.83" font-size="34.67">cm</text>
<text transform="translate(151.99 786.74) scale(1.0837 1)" font-size="37.38">(c)</text>
<text transform="translate(250.57 1360.15) scale(0.9951 1)" x="0 22.48" font-size="34.52">CK</text>
<text transform="translate(478.16 1362.92) scale(0.9870 1)" font-size="40.56" style="font-weight:normal;stroke-width:0">+</text>
<text transform="translate(497.9 1360.6) scale(0.9476 1)" font-size="34.05">P</text>
<text transform="translate(671.88 1362.53) scale(0.9967 1)" font-size="39.70" style="font-weight:normal;stroke-width:0">+</text>
<text transform="translate(690.89 1360.5) scale(0.9493 1)" x="0 23.37 53.91" font-size="34.24">AMF</text>
<text transform="translate(214.14 919.83) scale(0.9640 1)" font-size="36.65">b</text>
<text transform="translate(424.92 849.83) scale(1.0673 1)" font-size="37.22">ab</text>
<text transform="translate(656.29 850.31) scale(0.9376 1)" font-size="39.46">a</text>
<text transform="translate(32.15 1095.93) rotate(-90) scale(0.9376 1)" font-size="33.08">Simpson</text>
<text transform="translate(54.7 1326) scale(0.9932 1)" x="0 15.13 22.7" font-size="34.01">0.7</text>
<text transform="translate(54.83 1165.6) scale(1.0048 1)" x="0 15.13 22.7" font-size="34.01">0.8</text>
<text transform="translate(54.95 1005.2) scale(1.0004 1)" x="0 15.13 22.7" font-size="34.01">0.9</text>
<text transform="translate(55.2 844.8) scale(0.9913 1)" x="0 15.13 22.7" font-size="34.01">1.0</text>
<line x1="1037.7" y1="748.34" x2="1037.7" y2="1313.5" stroke="#000" stroke-width="2.6" stroke-linecap="butt"/>
<line x1="1036.4" y1="1312.2" x2="1808.2" y2="1312.2" stroke="#000" stroke-width="2.6" stroke-linecap="butt"/>
<line x1="1025.8" y1="1265.32" x2="1037.7" y2="1265.32" stroke="#000" stroke-width="2.6" stroke-linecap="butt"/>
<line x1="1025.8" y1="1171.56" x2="1037.7" y2="1171.56" stroke="#000" stroke-width="2.6" stroke-linecap="butt"/>
<line x1="1025.8" y1="1077.8" x2="1037.7" y2="1077.8" stroke="#000" stroke-width="2.6" stroke-linecap="butt"/>
<line x1="1025.8" y1="984.04" x2="1037.7" y2="984.04" stroke="#000" stroke-width="2.6" stroke-linecap="butt"/>
<line x1="1025.8" y1="890.28" x2="1037.7" y2="890.28" stroke="#000" stroke-width="2.6" stroke-linecap="butt"/>
<line x1="1025.8" y1="796.52" x2="1037.7" y2="796.52" stroke="#000" stroke-width="2.6" stroke-linecap="butt"/>
<line x1="1031.2" y1="1312.2" x2="1037.7" y2="1312.2" stroke="#000" stroke-width="2.6" stroke-linecap="butt"/>
<line x1="1031.2" y1="1218.44" x2="1037.7" y2="1218.44" stroke="#000" stroke-width="2.6" stroke-linecap="butt"/>
<line x1="1031.2" y1="1124.68" x2="1037.7" y2="1124.68" stroke="#000" stroke-width="2.6" stroke-linecap="butt"/>
<line x1="1031.2" y1="1030.92" x2="1037.7" y2="1030.92" stroke="#000" stroke-width="2.6" stroke-linecap="butt"/>
<line x1="1031.2" y1="937.16" x2="1037.7" y2="937.16" stroke="#000" stroke-width="2.6" stroke-linecap="butt"/>
<line x1="1031.2" y1="843.4" x2="1037.7" y2="843.4" stroke="#000" stroke-width="2.6" stroke-linecap="butt"/>
<line x1="1031.2" y1="749.64" x2="1037.7" y2="749.64" stroke="#000" stroke-width="2.6" stroke-linecap="butt"/>
<line x1="1147.95" y1="1017.3" x2="1147.95" y2="1009.7" stroke="#000" stroke-width="1.35" stroke-linecap="butt"/>
<line x1="1147.95" y1="1155.5" x2="1147.95" y2="1270.9" stroke="#000" stroke-width="1.35" stroke-linecap="butt"/>
<rect x="1130.75" y="1018.05" width="34.4" height="136.7" fill="#808000" stroke="#000" stroke-width="1.5"/>
<line x1="1130" y1="1073.3" x2="1165.9" y2="1073.3" stroke="#000" stroke-width="1.8" stroke-linecap="butt"/>
<rect x="1144.7" y="1094.7" width="6" height="6" fill="none" stroke="#000" stroke-width="1.15"/>
<path d="M1143.45 1005.2L1152.45 1014.2M1152.45 1005.2L1143.45 1014.2" stroke="#000" stroke-width="1.15" fill="none"/>
<path d="M1143.45 1009.7H1152.45" stroke="#000" stroke-width="1.5" fill="none"/>
<path d="M1143.45 1266.4L1152.45 1275.4M1152.45 1266.4L1143.45 1275.4" stroke="#000" stroke-width="1.15" fill="none"/>
<path d="M1143.45 1270.9H1152.45" stroke="#000" stroke-width="1.5" fill="none"/>
<line x1="1257.65" y1="993.5" x2="1257.65" y2="973.2" stroke="#d01c1c" stroke-width="1.35" stroke-linecap="butt"/>
<line x1="1257.65" y1="1039.2" x2="1257.65" y2="1043.7" stroke="#d01c1c" stroke-width="1.35" stroke-linecap="butt"/>
<rect x="1240.7" y="994.4" width="33.9" height="43.9" fill="#008080" stroke="#d01c1c" stroke-width="1.8"/>
<line x1="1239.8" y1="1010.8" x2="1275.5" y2="1010.8" stroke="#d01c1c" stroke-width="2.0" stroke-linecap="butt"/>
<rect x="1254.5" y="1020.6" width="6" height="6" fill="none" stroke="#d01c1c" stroke-width="1.15"/>
<path d="M1253.15 968.7L1262.15 977.7M1262.15 968.7L1253.15 977.7" stroke="#d01c1c" stroke-width="1.15" fill="none"/>
<path d="M1253.15 973.2H1262.15" stroke="#d01c1c" stroke-width="1.5" fill="none"/>
<line x1="1254.35" y1="1043.7" x2="1260.95" y2="1043.7" stroke="#d01c1c" stroke-width="1.8" stroke-linecap="butt"/>
<path d="M1253.35 1145.3L1261.95 1153.9M1261.95 1145.3L1253.35 1153.9" stroke="#d01c1c" stroke-width="1.15" fill="none"/>
<line x1="1367.6" y1="932.6" x2="1367.6" y2="814.8" stroke="#000" stroke-width="1.35" stroke-linecap="butt"/>
<line x1="1367.6" y1="1054.8" x2="1367.6" y2="1119.2" stroke="#000" stroke-width="1.35" stroke-linecap="butt"/>
<rect x="1350.55" y="933.35" width="34.1" height="120.7" fill="#808000" stroke="#000" stroke-width="1.5"/>
<line x1="1349.8" y1="983.4" x2="1385.4" y2="983.4" stroke="#000" stroke-width="1.8" stroke-linecap="butt"/>
<rect x="1364.5" y="979.3" width="6" height="6" fill="none" stroke="#000" stroke-width="1.15"/>
<path d="M1363.1 810.3L1372.1 819.3M1372.1 810.3L1363.1 819.3" stroke="#000" stroke-width="1.15" fill="none"/>
<path d="M1363.1 814.8H1372.1" stroke="#000" stroke-width="1.5" fill="none"/>
<path d="M1363.1 1114.7L1372.1 1123.7M1372.1 1114.7L1363.1 1123.7" stroke="#000" stroke-width="1.15" fill="none"/>
<path d="M1363.1 1119.2H1372.1" stroke="#000" stroke-width="1.5" fill="none"/>
<line x1="1477.75" y1="882.7" x2="1477.75" y2="834.2" stroke="#d01c1c" stroke-width="1.35" stroke-linecap="butt"/>
<line x1="1477.75" y1="1021" x2="1477.75" y2="1139" stroke="#d01c1c" stroke-width="1.35" stroke-linecap="butt"/>
<rect x="1460.7" y="883.6" width="34.1" height="136.5" fill="#008080" stroke="#d01c1c" stroke-width="1.8"/>
<line x1="1459.8" y1="964.5" x2="1495.7" y2="964.5" stroke="#d01c1c" stroke-width="2.0" stroke-linecap="butt"/>
<rect x="1474.5" y="961" width="6" height="6" fill="none" stroke="#d01c1c" stroke-width="1.15"/>
<path d="M1473.25 829.7L1482.25 838.7M1482.25 829.7L1473.25 838.7" stroke="#d01c1c" stroke-width="1.15" fill="none"/>
<path d="M1473.25 834.2H1482.25" stroke="#d01c1c" stroke-width="1.5" fill="none"/>
<path d="M1473.25 1134.5L1482.25 1143.5M1482.25 1134.5L1473.25 1143.5" stroke="#d01c1c" stroke-width="1.15" fill="none"/>
<path d="M1473.25 1139H1482.25" stroke="#d01c1c" stroke-width="1.5" fill="none"/>
<line x1="1587.8" y1="940.9" x2="1587.8" y2="878.9" stroke="#000" stroke-width="1.35" stroke-linecap="butt"/>
<line x1="1587.8" y1="1001.4" x2="1587.8" y2="1088.8" stroke="#000" stroke-width="1.35" stroke-linecap="butt"/>
<rect x="1570.85" y="941.65" width="33.9" height="59" fill="#808000" stroke="#000" stroke-width="1.5"/>
<line x1="1570.1" y1="972" x2="1605.5" y2="972" stroke="#000" stroke-width="1.8" stroke-linecap="butt"/>
<rect x="1584.5" y="983.6" width="6" height="6" fill="none" stroke="#000" stroke-width="1.15"/>
<path d="M1583.3 874.4L1592.3 883.4M1592.3 874.4L1583.3 883.4" stroke="#000" stroke-width="1.15" fill="none"/>
<path d="M1583.3 878.9H1592.3" stroke="#000" stroke-width="1.5" fill="none"/>
<line x1="1584.5" y1="1088.8" x2="1591.1" y2="1088.8" stroke="#000" stroke-width="1.8" stroke-linecap="butt"/>
<path d="M1583.5 1114.7L1592.1 1123.3M1592.1 1114.7L1583.5 1123.3" stroke="#000" stroke-width="1.15" fill="none"/>
<line x1="1697.6" y1="882.6" x2="1697.6" y2="834.3" stroke="#d01c1c" stroke-width="1.35" stroke-linecap="butt"/>
<line x1="1697.6" y1="1024.2" x2="1697.6" y2="1138.8" stroke="#d01c1c" stroke-width="1.35" stroke-linecap="butt"/>
<rect x="1680.6" y="883.5" width="34" height="139.8" fill="#008080" stroke="#d01c1c" stroke-width="1.8"/>
<line x1="1679.7" y1="935.5" x2="1715.5" y2="935.5" stroke="#d01c1c" stroke-width="2.0" stroke-linecap="butt"/>
<rect x="1694.3" y="952" width="6" height="6" fill="none" stroke="#d01c1c" stroke-width="1.15"/>
<path d="M1693.1 829.8L1702.1 838.8M1702.1 829.8L1693.1 838.8" stroke="#d01c1c" stroke-width="1.15" fill="none"/>
<path d="M1693.1 834.3H1702.1" stroke="#d01c1c" stroke-width="1.5" fill="none"/>
<path d="M1693.1 1134.3L1702.1 1143.3M1702.1 1134.3L1693.1 1143.3" stroke="#d01c1c" stroke-width="1.15" fill="none"/>
<path d="M1693.1 1138.8H1702.1" stroke="#d01c1c" stroke-width="1.5" fill="none"/>
<rect x="1629.85" y="749.35" width="66" height="24.2" fill="#808000" stroke="#000" stroke-width="1.5"/>
<rect x="1630.1" y="787.1" width="65.5" height="24.2" fill="#008080" stroke="#d01c1c" stroke-width="2"/>
<text transform="translate(1705.62 772.94) scale(0.9749 1)" x="0 15.34 25.56 40.91" font-size="35.70">0-15</text>
<text transform="translate(1769.28 772.94) scale(0.9408 1)" x="0 13.02" font-size="35.70">cm</text>
<text transform="translate(1705.3 810.15) scale(0.9741 1)" x="0 15.63 31.26 41.68 57.31" font-size="35.11">15-30</text>
<text transform="translate(1784.42 810.15) scale(0.9513 1)" x="0 12.84" font-size="35.11">cm</text>
<text transform="translate(1065.59 783.64) scale(1.0850 1)" font-size="37.38">(d)</text>
<text transform="translate(1176.62 1356.06) scale(1.0011 1)" x="0 22.49" font-size="34.38">CK</text>
<text transform="translate(1404.16 1358.85) scale(1.0022 1)" font-size="39.91" style="font-weight:normal;stroke-width:0">+</text>
<text transform="translate(1423.99 1356.6) scale(0.9729 1)" font-size="34.05">P</text>
<text transform="translate(1598.1 1358.63) scale(0.9972 1)" font-size="39.70" style="font-weight:normal;stroke-width:0">+</text>
<text transform="translate(1616.88 1356.6) scale(0.9493 1)" x="0 23.5 54.22" font-size="34.24">AMF</text>
<text transform="translate(1141.04 1002.74) scale(1.0024 1)" font-size="35.51">b</text>
<text transform="translate(1359.71 810.09) scale(0.8775 1)" font-size="41.13">a</text>
<text transform="translate(1579.83 872.21) scale(0.9742 1)" font-size="39.04">a</text>
<text transform="translate(981.27 1092.5) rotate(-90) scale(0.9499 1)" font-size="32.95">Shannon</text>
<text transform="translate(1003.71 1273.72) scale(0.9895 1)" font-size="33.91">3</text>
<text transform="translate(1003.11 1179.96) scale(0.9851 1)" font-size="33.91">4</text>
<text transform="translate(1003.52 1086.2) scale(1.0054 1)" font-size="33.91">5</text>
<text transform="translate(1003.41 992.44) scale(0.9873 1)" font-size="33.91">6</text>
<text transform="translate(1003.15 898.68) scale(0.9976 1)" font-size="33.91">7</text>
<text transform="translate(1003.64 804.92) scale(0.9854 1)" font-size="33.91">8</text>
</svg>
</body></html>
